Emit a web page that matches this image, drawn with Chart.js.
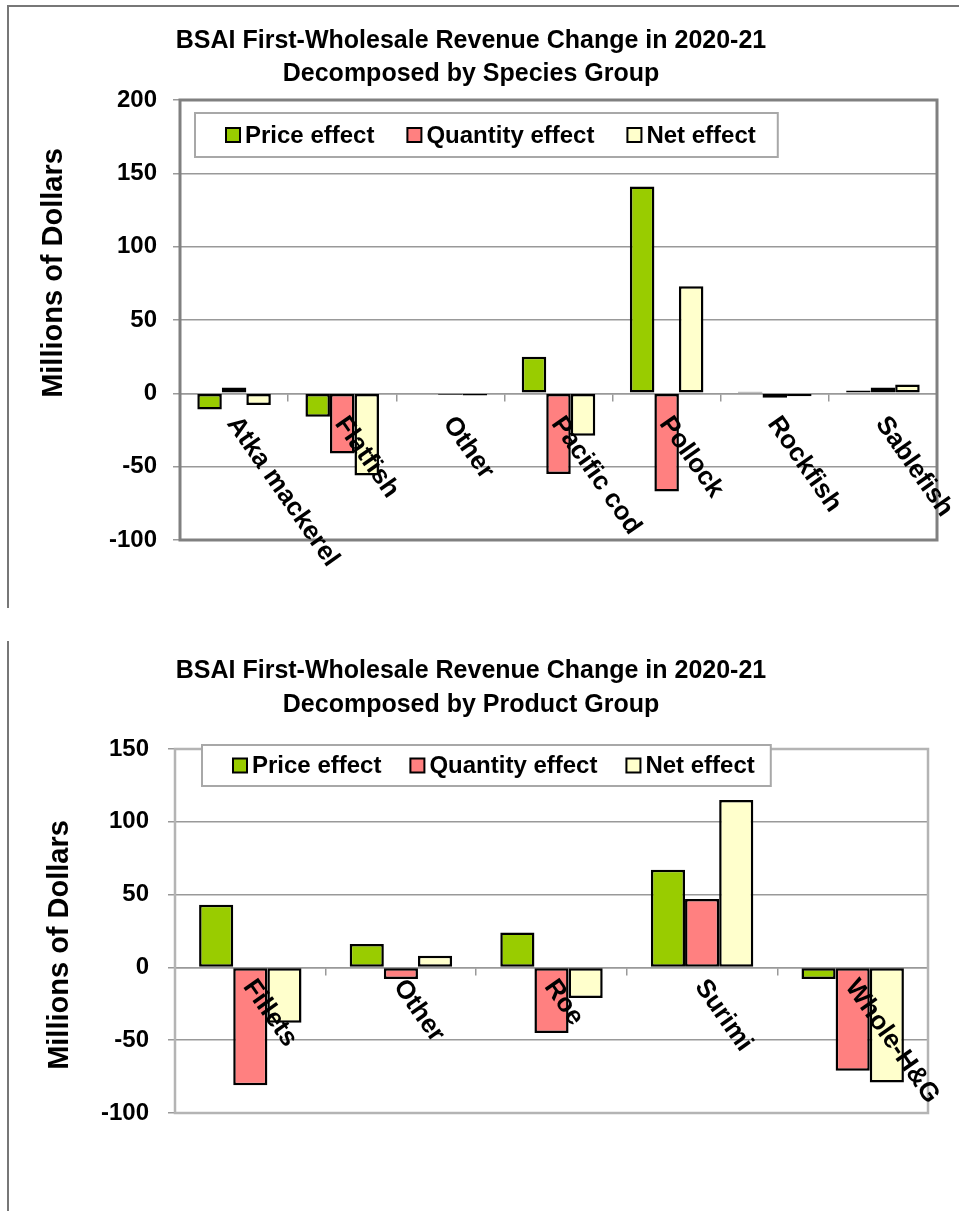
<!DOCTYPE html>
<html lang="en">
<head>
    <meta charset="UTF-8">
    <title>BSAI First-Wholesale Revenue Change in 2020-21</title>
    <script src="https://cdn.jsdelivr.net/npm/chart.js"></script>
    <style>
        body {
            margin: 0;
            background: #ffffff;
            width: 959px;
            height: 1211px;
            position: relative;
            overflow: hidden;
        }
        .frame1 {
            position: absolute;
            left: 7px;
            top: 5px;
            width: 952px;
            height: 601px;
            border-left: 2px solid #777;
            border-top: 2px solid #777;
        }
        .frame2 {
            position: absolute;
            left: 7px;
            top: 641px;
            height: 570px;
            border-left: 2px solid #777;
        }
        canvas {
            position: absolute;
            left: 0;
        }
        #speciesChart { top: 0; }
        #productChart { top: 620px; }
    </style>
</head>
<body>
    <div class="frame1"></div>
    <div class="frame2"></div>
    <canvas id="speciesChart" width="959" height="615"></canvas>
    <canvas id="productChart" width="959" height="591"></canvas>

    <script>
        // chart 1: by species group
        const speciesTitle = ['BSAI First-Wholesale Revenue Change in 2020-21', 'Decomposed by Species Group'];
        const speciesGroups = ['Atka mackerel', 'Flatfish', 'Other', 'Pacific cod', 'Pollock', 'Rockfish', 'Sablefish'];
        const speciesPrice = [-11, -16, -0.5, 25, 141, 1, 2];
        const speciesQuantity = [4, -41, -1, -55, -67, -3, 4];
        const speciesNet = [-8, -56, -1.5, -29, 73, -2, 6];
        const speciesTicks = { min: -100, max: 200, step: 50 };

        // chart 2: by product group
        const productTitle = ['BSAI First-Wholesale Revenue Change in 2020-21', 'Decomposed by Product Group'];
        const productGroups = ['Fillets', 'Other', 'Roe', 'Surimi', 'Whole-H&G'];
        const productPrice = [43, 16, 24, 67, -8];
        const productQuantity = [-81, -8, -45, 47, -71];
        const productNet = [-38, 8, -21, 115, -79];
        const productTicks = { min: -100, max: 150, step: 50 };

        const seriesNames = ['Price effect', 'Quantity effect', 'Net effect'];
        const seriesColors = ['#99cc00', '#ff8080', '#ffffcc'];
        const yTitle = 'Millions of Dollars';

        const FONT = '"Liberation Sans", Arial, sans-serif';
        Chart.defaults.font.family = FONT;
        Chart.defaults.color = '#000';

        // two-line title drawn at a given centre
        const titlePlugin = {
            id: 'twoLineTitle',
            afterDraw(chart, args, opts) {
                const ctx = chart.ctx;
                ctx.save();
                ctx.font = 'bold ' + opts.size + 'px ' + FONT;
                ctx.fillStyle = '#000';
                ctx.textAlign = 'center';
                ctx.textBaseline = 'middle';
                opts.lines.forEach((line, i) => {
                    ctx.fillText(line, opts.cx, opts.cy + i * opts.gap);
                });
                ctx.restore();
            }
        };

        // vertical axis title, placed where the original has it (not centred on the plot)
        const yTitlePlugin = {
            id: 'yTitle',
            afterDraw(chart, args, opts) {
                const ctx = chart.ctx;
                ctx.save();
                ctx.font = 'bold ' + opts.size + 'px ' + FONT;
                ctx.fillStyle = '#000';
                ctx.textAlign = 'center';
                ctx.textBaseline = 'middle';
                ctx.translate(opts.cx, opts.cy);
                ctx.rotate(-Math.PI / 2);
                ctx.fillText(opts.text, 0, 0);
                ctx.restore();
            }
        };

        // grey box round the plot area
        const framePlugin = {
            id: 'plotFrame',
            beforeDatasetsDraw(chart, args, opts) {
                const { ctx, chartArea: a } = chart;
                ctx.save();
                ctx.strokeStyle = opts.color;
                ctx.lineWidth = opts.width;
                ctx.strokeRect(a.left, a.top, a.right - a.left, a.bottom - a.top);
                ctx.restore();
            }
        };

        // category names, rotated clockwise, hanging from the zero line
        const catLabelPlugin = {
            id: 'catLabels',
            afterDatasetsDraw(chart, args, opts) {
                const { ctx, scales: { x, y } } = chart;
                const y0 = y.getPixelForValue(0);
                ctx.save();
                ctx.font = 'bold ' + opts.size + 'px ' + FONT;
                ctx.fillStyle = '#000';
                ctx.textAlign = 'left';
                ctx.textBaseline = 'middle';
                chart.data.labels.forEach((label, i) => {
                    const px = x.getPixelForValue(i);
                    ctx.save();
                    ctx.translate(px + opts.dx, y0 + opts.dy);
                    ctx.rotate(opts.angle * Math.PI / 180);
                    ctx.fillText(label, 0, 0);
                    ctx.restore();
                });
                ctx.restore();
            }
        };

        // legend in a white box inside the plot
        const boxLegendPlugin = {
            id: 'boxLegend',
            afterDraw(chart, args, opts) {
                const { ctx, chartArea: a } = chart;
                ctx.save();
                ctx.font = 'bold ' + opts.size + 'px ' + FONT;
                const items = chart.data.datasets.map(ds => ({
                    text: ds.label,
                    color: ds.backgroundColor,
                    w: ctx.measureText(ds.label).width
                }));
                let boxW = opts.padL + opts.padR;
                items.forEach((it, i) => {
                    boxW += opts.square + opts.textGap + it.w + (i > 0 ? opts.itemGap : 0);
                });
                const bx = a.left + opts.dx, by = a.top + opts.dy;
                ctx.fillStyle = '#fff';
                ctx.fillRect(bx, by, boxW, opts.height);
                ctx.strokeStyle = '#a8a8a8';
                ctx.lineWidth = 2;
                ctx.strokeRect(bx, by, boxW, opts.height);

                const cy = by + opts.height / 2;
                let cx = bx + opts.padL;
                ctx.textAlign = 'left';
                ctx.textBaseline = 'middle';
                items.forEach(it => {
                    ctx.fillStyle = it.color;
                    ctx.fillRect(cx, cy - opts.square / 2, opts.square, opts.square);
                    ctx.strokeStyle = '#000';
                    ctx.lineWidth = 2;
                    ctx.strokeRect(cx, cy - opts.square / 2, opts.square, opts.square);
                    cx += opts.square + opts.textGap;
                    ctx.fillStyle = '#000';
                    ctx.fillText(it.text, cx, cy + 1);
                    cx += it.w + opts.itemGap;
                });
                ctx.restore();
            }
        };

        function makeDatasets(price, quantity, net) {
            return [price, quantity, net].map((data, i) => ({
                label: seriesNames[i],
                data: data,
                backgroundColor: seriesColors[i],
                borderColor: '#000',
                borderWidth: 2.5,
                borderSkipped: false,
                categoryPercentage: 0.68,
                barPercentage: 1.0
            }));
        }

        function makeChart(canvasId, cfg) {
            return new Chart(document.getElementById(canvasId), {
                type: 'bar',
                data: {
                    labels: cfg.labels,
                    datasets: makeDatasets(cfg.price, cfg.quantity, cfg.net)
                },
                options: {
                    responsive: false,
                    animation: false,
                    layout: { padding: cfg.padding },
                    plugins: {
                        legend: { display: false },
                        tooltip: { enabled: false },
                        title: { display: false },
                        twoLineTitle: cfg.title,
                        yTitle: cfg.yTitle,
                        plotFrame: cfg.frame,
                        catLabels: Object.assign({ size: 26, angle: 55, dx: -2 }, cfg.catLabels),
                        boxLegend: Object.assign({
                            size: 24, square: 14, textGap: 5, padL: 31
                        }, cfg.legend)
                    },
                    scales: {
                        x: {
                            type: 'category',
                            position: { y: 0 },
                            ticks: { display: false },
                            grid: {
                                drawOnChartArea: false,
                                drawTicks: true,
                                tickLength: 7,
                                offset: true,
                                color: '#999',
                                lineWidth: 1.5
                            },
                            border: { display: true, color: '#999', width: 1.5 }
                        },
                        y: {
                            min: cfg.ticks.min,
                            max: cfg.ticks.max,
                            afterFit(scale) { scale.width = cfg.axisWidth; },
                            ticks: {
                                stepSize: cfg.ticks.step,
                                padding: cfg.tickPad,
                                font: { size: 24, weight: 'bold' },
                                color: '#000'
                            },
                            grid: {
                                color: '#999',
                                lineWidth: 1.5,
                                tickLength: 7
                            },
                            border: { display: false },
                            title: { display: false }
                        }
                    }
                },
                plugins: [framePlugin, catLabelPlugin, boxLegendPlugin, titlePlugin, yTitlePlugin]
            });
        }

        makeChart('speciesChart', {
            labels: speciesGroups,
            price: speciesPrice,
            quantity: speciesQuantity,
            net: speciesNet,
            ticks: speciesTicks,
            padding: { top: 100, right: 22, bottom: 75, left: 0 },
            axisWidth: 180,
            tickPad: 16,
            title: { lines: speciesTitle, size: 25, cx: 471, cy: 41, gap: 33 },
            yTitle: { text: yTitle, size: 29, cx: 54, cy: 273 },
            frame: { color: '#808080', width: 3 },
            catLabels: { dy: 26 },
            legend: { dx: 15, dy: 13, height: 44, itemGap: 33, padR: 22 }
        });

        makeChart('productChart', {
            labels: productGroups,
            price: productPrice,
            quantity: productQuantity,
            net: productNet,
            ticks: productTicks,
            padding: { top: 129, right: 31, bottom: 98, left: 0 },
            axisWidth: 175,
            tickPad: 19,
            title: { lines: productTitle, size: 25, cx: 471, cy: 51, gap: 34 },
            yTitle: { text: yTitle, size: 29, cx: 60, cy: 325 },
            frame: { color: '#b4b4b4', width: 2.5 },
            catLabels: { dy: 15 },
            legend: { dx: 27, dy: -4, height: 41, itemGap: 29, padR: 16 }
        });
    </script>
</body>
</html>
